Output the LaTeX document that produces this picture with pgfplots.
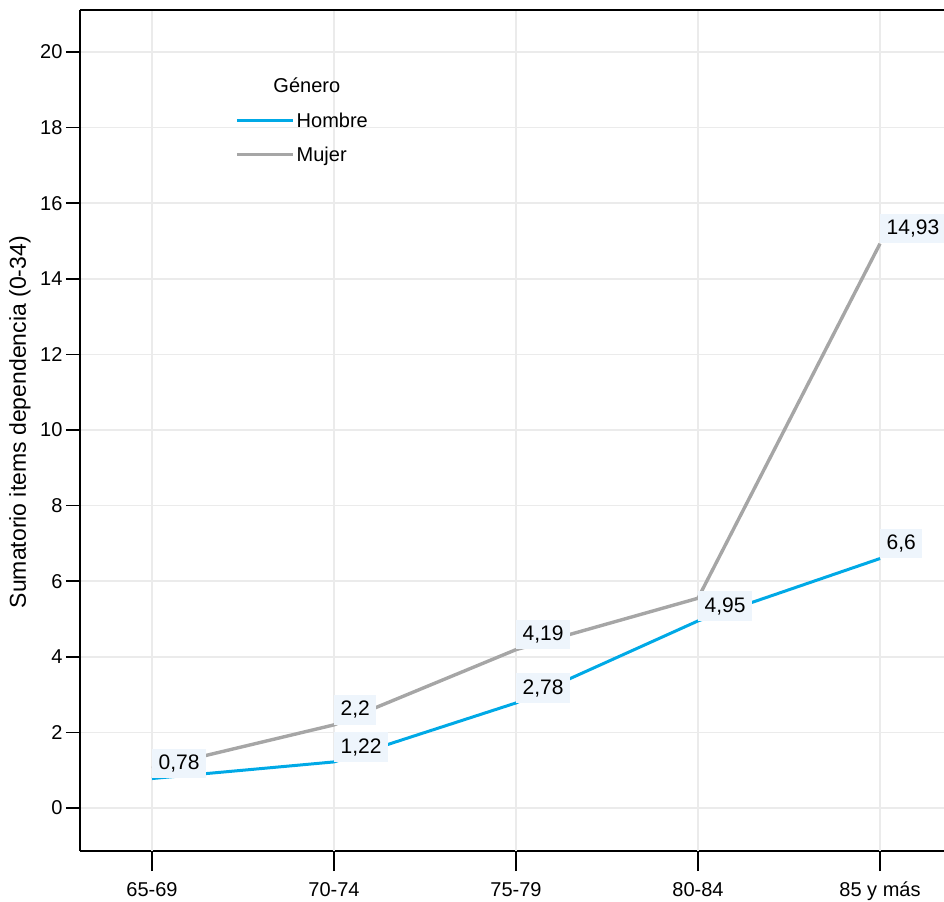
\documentclass[border=0pt]{standalone}
\usepackage{fontspec}
\setmainfont{Liberation Sans}
\usepackage{pgfplots}
\pgfplotsset{compat=1.18}
\definecolor{hblue}{RGB}{0,169,230}
\definecolor{mgray}{RGB}{166,166,166}
\definecolor{gridc}{RGB}{235,235,235}
\definecolor{lblfill}{RGB}{238,245,252}
\begin{document}
\begin{tikzpicture}
\begin{axis}[
  scale only axis, width=864pt, height=841pt,
  xmin=-0.396, xmax=4.3516, ymin=-1.14, ymax=21.11,
  axis x line*=bottom, axis y line*=left,
  axis line style={line width=2pt, black, -},
  ytick={0,2,...,20},
  xtick=\empty,
  extra x ticks={0,1,2,3,4},
  extra x tick labels={65-69,70-74,75-79,80-84,85 y más},
  extra x tick style={major tick length=20pt, grid=major},
  ymajorgrids=true,
  major grid style={gridc, line width=1.6pt},
  tick align=outside, major tick length=14pt,
  tick style={black, line width=1.6pt},
  /pgf/number format/assume math mode=true,
  yticklabel style={font=\fontsize{20}{22}\selectfont},
  xticklabel style={font=\fontsize{20}{22}\selectfont, text height=0.75em, text depth=0.25em, yshift=-14pt},
  ylabel={Sumatorio items dependencia (0-34)},
  every axis y label/.style={at={(rel axis cs:0,0.510)}, xshift=-60pt, rotate=90, anchor=center, font=\fontsize{23}{25}\selectfont},
  clip=false,
  legend style={at={(axis cs:0.44,18.51)}, anchor=north west, draw=none, fill=none,
    font=\fontsize{20}{22}\selectfont, row sep=14pt},
  legend image code/.code={\draw[#1] (0pt,0pt) -- (56pt,0pt);},
  legend cell align=left,
]
\addplot[hblue, line width=3pt, line join=round] coordinates {(0,0.78) (1,1.22) (2,2.78) (3,4.95) (4,6.6)};
\addlegendentry{Hombre}
\addplot[mgray, line width=3.4pt, line join=round] coordinates {(0,1.05) (1,2.2) (2,4.19) (3,5.55) (4,14.93)};
\addlegendentry{Mujer}
\addplot[draw=none, mark=none, forget plot, nodes near coords, point meta=explicit symbolic,
  nodes near coords align={anchor=south west},
  every node near coord/.append style={anchor=south west, fill=lblfill, text=black, inner xsep=6.5pt, inner ysep=6pt, font=\fontsize{21}{23}\selectfont}]
  coordinates {(0,0.78)[0,78] (1,1.22)[1,22] (2,2.78)[2,78] (3,4.95)[4,95] (4,6.6)[6,6]};
\addplot[draw=none, mark=none, forget plot, nodes near coords, point meta=explicit symbolic,
  nodes near coords align={anchor=south west},
  every node near coord/.append style={anchor=south west, fill=lblfill, text=black, inner xsep=6.5pt, inner ysep=6pt, font=\fontsize{21}{23}\selectfont}]
  coordinates {(1,2.2)[2,2] (2,4.19)[4,19] (4,14.93)[14,93]};
\node[anchor=west, font=\fontsize{20}{22}\selectfont] at (axis cs:0.648,19.13) {Género};
\draw[line width=2pt] (rel axis cs:0,1) -- (rel axis cs:1,1);
\coordinate (bbtl) at (axis cs:-0.8352,21.376);
\coordinate (bbbr) at (axis cs:4.3516,-2.460);
\end{axis}
\pgfresetboundingbox
\path (bbtl) rectangle (bbbr);
\end{tikzpicture}
\end{document}
